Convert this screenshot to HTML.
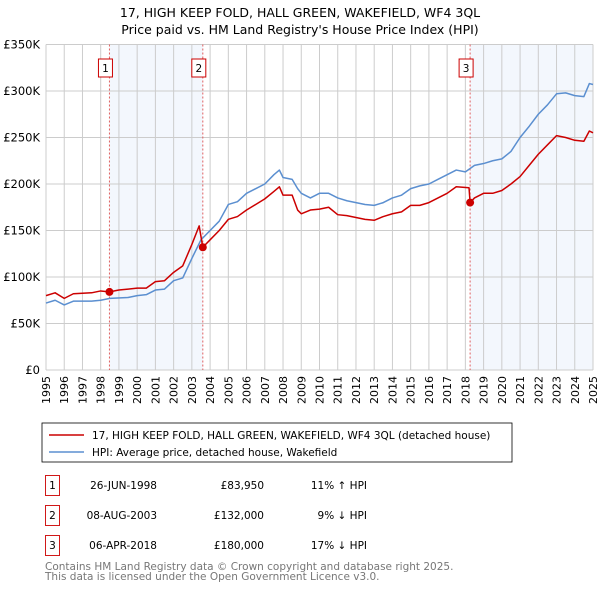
<!DOCTYPE html>
<html><head><meta charset="utf-8"><style>
body{margin:0;background:#fff;font-family:"Liberation Sans","DejaVu Sans",sans-serif;}
svg text{font-family:"DejaVu Sans","Liberation Sans",sans-serif;}
</style></head><body>
<svg width="600" height="590" xmlns="http://www.w3.org/2000/svg">
<text x="300" y="17" font-size="12.5" text-anchor="middle">17, HIGH KEEP FOLD, HALL GREEN, WAKEFIELD, WF4 3QL</text>
<text x="300" y="34" font-size="12.5" text-anchor="middle">Price paid vs. HM Land Registry's House Price Index (HPI)</text>
<g id="plot"></g>
<rect x="42" y="423" width="470" height="39" fill="#fff" stroke="#000" stroke-width="0.8"/>
<line x1="49" y1="435" x2="84" y2="435" stroke="#cc0000" stroke-width="1.5"/>
<text x="92" y="439" font-size="10.5">17, HIGH KEEP FOLD, HALL GREEN, WAKEFIELD, WF4 3QL (detached house)</text>
<line x1="49" y1="452" x2="84" y2="452" stroke="#5b8fd0" stroke-width="1.5"/>
<text x="92" y="456" font-size="10.5">HPI: Average price, detached house, Wakefield</text>
<g font-size="10.5">
<rect x="45.5" y="475.5" width="14" height="20" fill="#fff" stroke="#cc0000" stroke-width="0.9"/><text x="52.5" y="489" text-anchor="middle">1</text>
<text x="157" y="489" text-anchor="end">26-JUN-1998</text><text x="264" y="489" text-anchor="end">£83,950</text><text x="367" y="489" text-anchor="end">11% ↑ HPI</text>
<rect x="45.5" y="505.5" width="14" height="20" fill="#fff" stroke="#cc0000" stroke-width="0.9"/><text x="52.5" y="519" text-anchor="middle">2</text>
<text x="157" y="519" text-anchor="end">08-AUG-2003</text><text x="264" y="519" text-anchor="end">£132,000</text><text x="367" y="519" text-anchor="end">9% ↓ HPI</text>
<rect x="45.5" y="535.5" width="14" height="20" fill="#fff" stroke="#cc0000" stroke-width="0.9"/><text x="52.5" y="549" text-anchor="middle">3</text>
<text x="157" y="549" text-anchor="end">06-APR-2018</text><text x="264" y="549" text-anchor="end">£180,000</text><text x="367" y="549" text-anchor="end">17% ↓ HPI</text>
</g>
<text x="45" y="570" font-size="10.5" fill="#777">Contains HM Land Registry data © Crown copyright and database right 2025.</text>
<text x="45" y="580" font-size="10.5" fill="#777">This data is licensed under the Open Government Licence v3.0.</text>
</svg>
<script>
const yTicks=[0,50,100,150,200,250,300,350];
const years=[1995,1996,1997,1998,1999,2000,2001,2002,2003,2004,2005,2006,2007,2008,2009,2010,2011,2012,2013,2014,2015,2016,2017,2018,2019,2020,2021,2022,2023,2024,2025];
const hpiX=[1995,1995.5,1996,1996.5,1997.5,1998,1998.5,1999.5,2000,2000.5,2001,2001.5,2002,2002.5,2003,2003.5,2004,2004.5,2005,2005.5,2006,2006.5,2007,2007.5,2007.8,2008,2008.5,2008.8,2009,2009.5,2010,2010.5,2011,2011.5,2012,2012.5,2013,2013.5,2014,2014.5,2015,2015.5,2016,2016.5,2017,2017.5,2018,2018.5,2019,2019.5,2020,2020.5,2021,2021.5,2022,2022.5,2023,2023.5,2024,2024.5,2024.8,2025];
const hpiY=[72,75,70,74,74,75,77,78,80,81,86,87,96,99,120,140,150,160,178,181,190,195,200,210,215,207,205,195,190,185,190,190,185,182,180,178,177,180,185,188,195,198,200,205,210,215,213,220,222,225,227,235,250,262,275,285,297,298,295,294,308,307];
const priceX=[1995,1995.5,1996,1996.5,1997.5,1998,1998.48,1999,2000,2000.5,2001,2001.5,2002,2002.5,2003,2003.4,2003.6,2004,2004.5,2005,2005.5,2006,2006.5,2007,2007.5,2007.8,2008,2008.5,2008.8,2009,2009.5,2010,2010.5,2011,2011.5,2012,2012.5,2013,2013.5,2014,2014.5,2015,2015.5,2016,2016.5,2017,2017.5,2018.2,2018.26,2018.5,2019,2019.5,2020,2020.5,2021,2021.5,2022,2022.5,2023,2023.5,2024,2024.5,2024.8,2025];
const priceY=[80,83,77,82,83,85,84,86,88,88,95,96,105,112,135,155,132,140,150,162,165,172,178,184,192,197,188,188,172,168,172,173,175,167,166,164,162,161,165,168,170,177,177,180,185,190,197,196,180,185,190,190,193,200,208,220,232,242,252,250,247,246,257,255];
const saleX=[1998.48,2003.6,2018.26];
const saleY=[83.95,132,180];
const saleLabels=["1","2","3"];
const X0=46,X1=593,Y0=370,Y1=44.5;
const sx=v=>X0+(v-1995)/30*(X1-X0);
const sy=v=>Y0-v/350*(Y0-Y1);
const NS="http://www.w3.org/2000/svg";
const g=document.getElementById('plot');
function mk(t,a){const e=document.createElementNS(NS,t);for(const k in a)e.setAttribute(k,a[k]);g.appendChild(e);return e;}
let r=mk('rect',{x:sx(saleX[0]),y:Y1,width:sx(saleX[1])-sx(saleX[0]),height:Y0-Y1,fill:'#eef3fc',opacity:0.7});


r=mk('rect',{x:sx(saleX[2]),y:Y1,width:X1-sx(saleX[2]),height:Y0-Y1,fill:'#eef3fc',opacity:0.7});


years.forEach(y=>{
 const l=mk('line',{x1:sx(y),x2:sx(y),y1:Y1,y2:Y0,stroke:'#ccc','stroke-width':1});
 
 
 const t=mk('text',{x:0,y:0,'font-size':11,'text-anchor':'end',transform:`translate(${sx(y)+4},${Y0+6}) rotate(-90)`});
 t.textContent=y;
 
 
});
yTicks.forEach(v=>{
 const l=mk('line',{x1:X0,x2:X1,y1:sy(v),y2:sy(v),stroke:'#ccc','stroke-width':1});
 
 
 const t=mk('text',{x:X0-6,y:sy(v)+4,'font-size':11.5,'text-anchor':'end'});
 t.textContent=v==0?'£0':'£'+v+'K';
 
 
});
saleX.forEach((x,i)=>{
 const l=mk('line',{x1:sx(x),x2:sx(x),y1:Y1,y2:Y0,stroke:'#e06060','stroke-width':1,'stroke-dasharray':'2,2'});
 
 
 const b=mk('rect',{x:sx(x)-11,y:59,width:14,height:18,fill:'#fff',stroke:'#cc0000','stroke-width':1});
 
 
 const t=mk('text',{x:sx(x)-4,y:72,'font-size':10.5,'text-anchor':'middle'});
 t.textContent=saleLabels[i];
 
 
});
function line(xs,ys,c,n){
 const p=mk('polyline',{points:xs.map((x,i)=>sx(x)+','+sy(ys[i])).join(' '),fill:'none',stroke:c,'stroke-width':1.5,'stroke-linejoin':'round'});
 
 
}
line(hpiX,hpiY,'#5b8fd0','hpi-line');
line(priceX,priceY,'#cc0000','price-line');
saleX.forEach((x,i)=>{
 const c=mk('circle',{cx:sx(x),cy:sy(saleY[i]),r:4,fill:'#cc0000'});
 
 
});
</script>
</body></html>
